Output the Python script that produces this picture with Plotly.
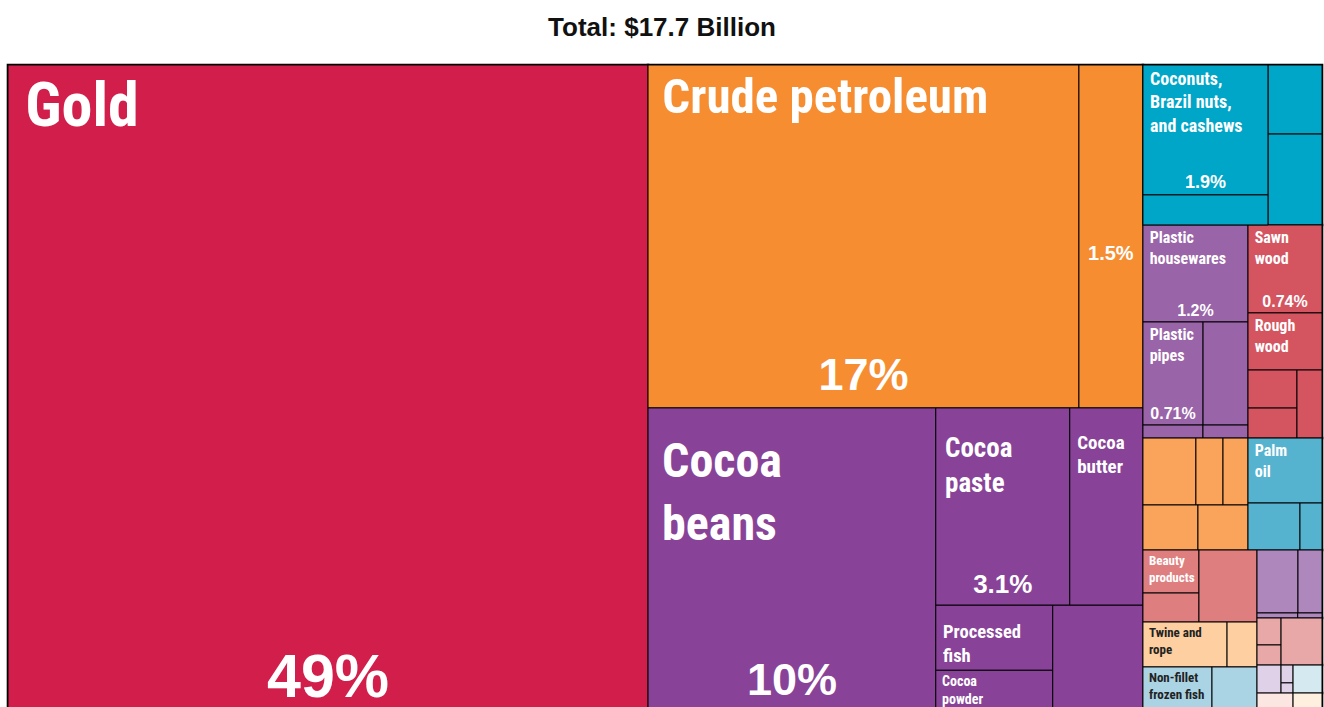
import plotly.graph_objects as go

# ---------------- data (export values, million USD) ----------------
sectors = ["Precious Metals", "Mineral Products", "Foodstuffs", "Vegetable Products",
           "Plastics and Rubbers", "Wood Products", "Metals",
           "Animal and Vegetable Bi-Products", "Chemical Products", "Textiles",
           "Animal Products", "Machines", "Stone and Glass", "Transportation",
           "Footwear and Headwear", "Paper Goods", "Miscellaneous"]

groups = ["Edible Fruits and Nuts"]
group_parents = ["Vegetable Products"]

products = ["Gold",
            "Crude petroleum", "Manganese ore",
            "Cocoa beans", "Cocoa paste", "Cocoa butter", "Processed fish", "Cocoa powder",
            "Other edible preparations",
            "Coconuts, Brazil nuts, and cashews", "Tropical fruits", "Coffee", "Oily seeds",
            "Plastic housewares", "Plastic pipes", "Plastic lids", "Rubber tires", "Raw plastic sheeting",
            "Sawn wood", "Rough wood", "Veneer sheets", "Plywood", "Wood carpentry",
            "Raw aluminium", "Scrap iron", "Iron bars", "Aluminium plating", "Scrap aluminium",
            "Palm oil", "Palm kernel oil", "Coconut oil",
            "Beauty products", "Soap", "Packaged medicaments",
            "Twine and rope", "Used clothing",
            "Non-fillet frozen fish", "Fish fillets",
            "Refrigerators", "Electric generators", "Engine parts", "Valves",
            "Glass bottles", "Cement", "Ceramic tiles",
            "Cars", "Trucks", "Vehicle parts",
            "Footwear", "Cartons", "Furniture"]

product_parents = ["Precious Metals",
                   "Mineral Products", "Mineral Products",
                   "Foodstuffs", "Foodstuffs", "Foodstuffs", "Foodstuffs", "Foodstuffs",
                   "Foodstuffs",
                   "Edible Fruits and Nuts", "Edible Fruits and Nuts",
                   "Vegetable Products", "Vegetable Products",
                   "Plastics and Rubbers", "Plastics and Rubbers", "Plastics and Rubbers",
                   "Plastics and Rubbers", "Plastics and Rubbers",
                   "Wood Products", "Wood Products", "Wood Products", "Wood Products", "Wood Products",
                   "Metals", "Metals", "Metals", "Metals", "Metals",
                   "Animal and Vegetable Bi-Products", "Animal and Vegetable Bi-Products",
                   "Animal and Vegetable Bi-Products",
                   "Chemical Products", "Chemical Products", "Chemical Products",
                   "Textiles", "Textiles",
                   "Animal Products", "Animal Products",
                   "Machines", "Machines", "Machines", "Machines",
                   "Stone and Glass", "Stone and Glass", "Stone and Glass",
                   "Transportation", "Transportation", "Transportation",
                   "Footwear and Headwear", "Paper Goods", "Miscellaneous"]

product_values = [8622,
                  3030, 450,
                  1853, 542, 296, 156, 124, 216,
                  333, 77, 76.5, 100.7,
                  209, 127, 95, 16, 12,
                  133.5, 86.6, 38.2, 30.1, 34.9,
                  72.7, 37.2, 34.3, 50.8, 46.2,
                  98.6, 50.1, 21.2,
                  49.4, 33.3, 85.7,
                  77.5, 27.6,
                  77.9, 50.8,
                  52.9, 31.0, 4.2, 2.5,
                  13.3, 9.9, 39.5,
                  13.8, 4.4, 2.5,
                  21.4, 16.6, 17.2]

# share labels as printed on the chart
share_labels = {"Gold": "49%", "Crude petroleum": "17%", "Manganese ore": "1.5%",
                "Cocoa beans": "10%", "Cocoa paste": "3.1%",
                "Coconuts, Brazil nuts, and cashews": "1.9%",
                "Plastic housewares": "1.2%", "Sawn wood": "0.74%", "Plastic pipes": "0.71%"}

# names as printed on the tiles (line breaks as in the chart)
tile_names = {"Gold": ["Gold"], "Crude petroleum": ["Crude petroleum"],
              "Cocoa beans": ["Cocoa", "beans"], "Cocoa paste": ["Cocoa", "paste"],
              "Cocoa butter": ["Cocoa", "butter"], "Processed fish": ["Processed", "fish"],
              "Cocoa powder": ["Cocoa", "powder"],
              "Coconuts, Brazil nuts, and cashews": ["Coconuts,", "Brazil nuts,", "and cashews"],
              "Plastic housewares": ["Plastic", "housewares"], "Plastic pipes": ["Plastic", "pipes"],
              "Sawn wood": ["Sawn", "wood"], "Rough wood": ["Rough", "wood"],
              "Palm oil": ["Palm", "oil"], "Beauty products": ["Beauty", "products"],
              "Twine and rope": ["Twine and", "rope"],
              "Non-fillet frozen fish": ["Non-fillet", "frozen fish"]}

# ---------------- styles ----------------
SECTOR_COLORS = {"Precious Metals": "#D21E4A", "Mineral Products": "#F68D31",
                 "Foodstuffs": "#884398", "Vegetable Products": "#00A6C7",
                 "Plastics and Rubbers": "#9A64A8", "Wood Products": "#D4545F",
                 "Metals": "#F9A35B", "Animal and Vegetable Bi-Products": "#55B3CF",
                 "Chemical Products": "#DF7E7E", "Textiles": "#FDCFA1",
                 "Animal Products": "#AAD3E4", "Machines": "#AE87BD",
                 "Stone and Glass": "#E8A8A7", "Transportation": "#DED1E8",
                 "Footwear and Headwear": "#FBE6E2", "Paper Goods": "#D4E9F0",
                 "Miscellaneous": "#FEF0DF"}

NAME_SIZE = {"Gold": 62, "Crude petroleum": 49, "Cocoa beans": 48, "Cocoa paste": 27,
             "Cocoa butter": 19, "Processed fish": 19, "Cocoa powder": 14,
             "Coconuts, Brazil nuts, and cashews": 18,
             "Beauty products": 13, "Twine and rope": 13, "Non-fillet frozen fish": 13}
# small spacer line above some names (px) to push them down like the original
NAME_SPACER = {"Cocoa beans": 4, "Cocoa paste": 12, "Cocoa butter": 14, "Processed fish": 6}
DARK_NAMES = {"Twine and rope", "Non-fillet frozen fish"}
# share font size, and size of the spacer line that lifts the share off the tile bottom
SHARE_SIZE = {"Gold": (61, 15), "Crude petroleum": (45, 10), "Cocoa beans": (45, 16),
              "Cocoa paste": (26, 6), "Manganese ore": (20, 96),
              "Coconuts, Brazil nuts, and cashews": (18, 0), "Plastic housewares": (16, 0),
              "Sawn wood": (16, 0), "Plastic pipes": (16, 0)}

NAME_FONT = ("Noto Sans Condensed, Roboto Condensed, Liberation Sans Narrow, "
             "DejaVu Sans Condensed, sans-serif")
SHARE_FONT = "Liberation Sans, Arial, sans-serif"
NBSP = "\u00a0"

# ---------------- build nodes ----------------
ids, parents, values, colors, lw = [], [], [], [], []
name_txt, name_size, name_col = [], [], []
share_txt, share_size = [], []

sector_of = {s: s for s in sectors}
for g, p in zip(groups, group_parents):
    sector_of[g] = sector_of[p]
for pr, p in zip(products, product_parents):
    sector_of[pr] = sector_of[p]


def add(node, parent, value, width):
    ids.append(node)
    parents.append(parent)
    values.append(value)
    colors.append(SECTOR_COLORS[sector_of[node]])
    lw.append(width)
    txt = ""
    if node in tile_names:
        txt = "<br>".join(NBSP + ln for ln in tile_names[node])
        if node in NAME_SPACER:
            txt = f"<span style='font-size:{NAME_SPACER[node]}px'>{NBSP}</span><br>" + txt
    name_txt.append(txt)
    name_size.append(NAME_SIZE.get(node, 16))
    name_col.append("#222222" if node in DARK_NAMES else "#FFFFFF")
    if node in share_labels:
        big, lift = SHARE_SIZE[node]
        if lift > 0:
            share_txt.append(f"<span style='font-size:{big}px'>{share_labels[node]}</span><br>{NBSP}")
            share_size.append(lift)
        else:
            share_txt.append(share_labels[node])
            share_size.append(big)
    else:
        share_txt.append("")
        share_size.append(12)


for s in sectors:
    add(s, "", 0, 2.6)
for g, p in zip(groups, group_parents):
    add(g, p, 0, 1.2)
for pr, p, v in zip(products, product_parents, product_values):
    add(pr, p, v, 1.0)

common = dict(ids=ids, labels=ids, parents=parents, values=values,
              branchvalues="remainder", sort=False,
              tiling=dict(packing="squarify", squarifyratio=1.618034, pad=0),
              pathbar=dict(visible=False),
              domain=dict(x=[0, 1], y=[0, 1]))

fig = go.Figure()
fig.add_trace(go.Treemap(
    **common,
    marker=dict(colors=colors, line=dict(color="#000000", width=lw),
                pad=dict(t=0, l=0, r=0, b=0)),
    text=name_txt, textinfo="text", textposition="top left",
    textfont=dict(family=NAME_FONT, size=name_size, color=name_col, weight="bold"),
    hovertemplate="%{label}<br>$%{value:,.0f}M<extra></extra>",
))
fig.add_trace(go.Treemap(
    **common,
    marker=dict(colors=["rgba(0,0,0,0)"] * len(ids), line=dict(width=0),
                pad=dict(t=0, l=0, r=0, b=0)),
    text=share_txt, textinfo="text", textposition="bottom center",
    textfont=dict(family=SHARE_FONT, size=share_size, color="#FFFFFF", weight="bold"),
    hoverinfo="skip",
))

FIG_W, FIG_H = 1324, 722
fig.update_layout(
    width=FIG_W, height=FIG_H,
    margin=dict(l=8, r=2, t=65, b=0),
    paper_bgcolor="white",
    title=dict(text="Total: $17.7 Billion", x=0.5, xanchor="center",
               y=1 - 27 / FIG_H, yanchor="middle",
               font=dict(family="Liberation Sans, Arial, sans-serif", size=26,
                         color="#111111", weight="bold")),
    showlegend=False,
)

# the chart runs past the bottom of the window, as in the original: page without
# margin and without scrollbars
fig.write_html("out.html",
               config={"displayModeBar": False},
               post_script="document.body.style.margin='0';"
                           "document.documentElement.style.overflow='hidden';")
